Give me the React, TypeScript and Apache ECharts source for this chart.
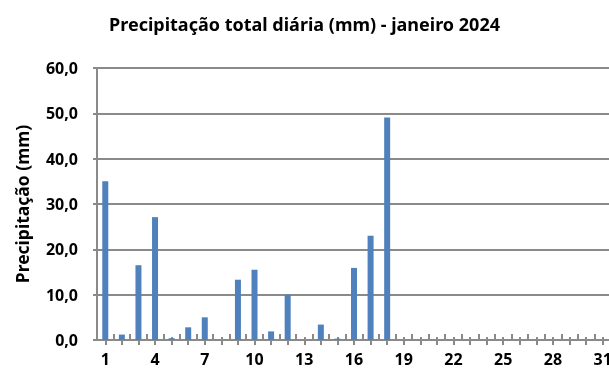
import React, { useEffect, useRef } from "react";
import * as echarts from "echarts";

// Daily rainfall, January 2024
const days: string[] = Array.from({ length: 31 }, (_, i) => String(i + 1));
const rainfall: number[] = [
  35.0, 1.2, 16.5, 27.1, 0.4, 2.8, 5.0, 0, 13.3, 15.5,
  1.9, 10.0, 0, 3.4, 0.3, 15.9, 23.0, 49.1, 0, 0,
  0, 0, 0, 0, 0, 0, 0, 0, 0, 0, 0,
];
const titleText = "Precipitação total diária (mm) - janeiro 2024";
const yAxisTitle = "Precipitação (mm)";

const FONT = "'Noto Sans', 'Open Sans', sans-serif";
const GRAY = "#8a8a8a";

export default function App() {
  const ref = useRef<HTMLDivElement>(null);

  useEffect(() => {
    if (!ref.current) return;
    const chart = echarts.init(ref.current, undefined, { renderer: "svg" });
    const tickOnlyAxis = (inside: boolean, length: number, align: boolean) => ({
      type: "category" as const,
      data: days,
      position: "bottom" as const,
      boundaryGap: true,
      axisLine: { show: false },
      axisLabel: { show: false },
      splitLine: { show: false },
      axisTick: {
        show: true,
        inside,
        length,
        alignWithLabel: align,
        interval: 0,
        lineStyle: { color: GRAY, width: 2 },
      },
    });
    chart.setOption({
      animation: false,
      title: {
        text: titleText,
        left: "center",
        top: 10,
        textStyle: { fontFamily: FONT, fontWeight: "bold", fontSize: 18, color: "#000" },
      },
      grid: {
        left: 97,
        right: -2,
        top: 68,
        bottom: 36,
        containLabel: false,
        outerBoundsMode: "none",
      },
      xAxis: [
        {
          type: "category",
          data: days,
          position: "bottom",
          boundaryGap: true,
          axisLine: { show: true, lineStyle: { color: GRAY, width: 2 } },
          axisTick: {
            show: true,
            alignWithLabel: true,
            interval: 0,
            length: 5,
            lineStyle: { color: GRAY, width: 2 },
          },
          axisLabel: {
            interval: 2,
            margin: 11,
            fontFamily: FONT,
            fontWeight: "bold",
            fontSize: 16,
            color: "#000",
          },
        },
        tickOnlyAxis(true, 6, false),
        tickOnlyAxis(true, 3, true),
      ],
      yAxis: {
        type: "value",
        min: 0,
        max: 60,
        interval: 10,
        name: yAxisTitle,
        nameLocation: "middle",
        nameGap: 66,
        nameTextStyle: { fontFamily: FONT, fontWeight: "bold", fontSize: 17.5, color: "#000" },
        axisLine: { show: true, lineStyle: { color: GRAY, width: 2 } },
        axisTick: { show: true, length: 4, lineStyle: { color: GRAY, width: 2 } },
        splitLine: { show: true, lineStyle: { color: GRAY, width: 2 } },
        axisLabel: {
          margin: 19,
          fontFamily: FONT,
          fontWeight: "bold",
          fontSize: 16,
          color: "#000",
          formatter: (v: number) => v.toFixed(1).replace(".", ","),
        },
      },
      series: [
        {
          type: "bar",
          data: rainfall,
          xAxisIndex: 0,
          barWidth: 6,
          itemStyle: { color: "#4F81BD" },
        },
      ],
    });
    return () => chart.dispose();
  }, []);

  return (
    <div
      ref={ref}
      style={{ position: "fixed", left: 0, top: 0, width: 609, height: 376 }}
    />
  );
}
